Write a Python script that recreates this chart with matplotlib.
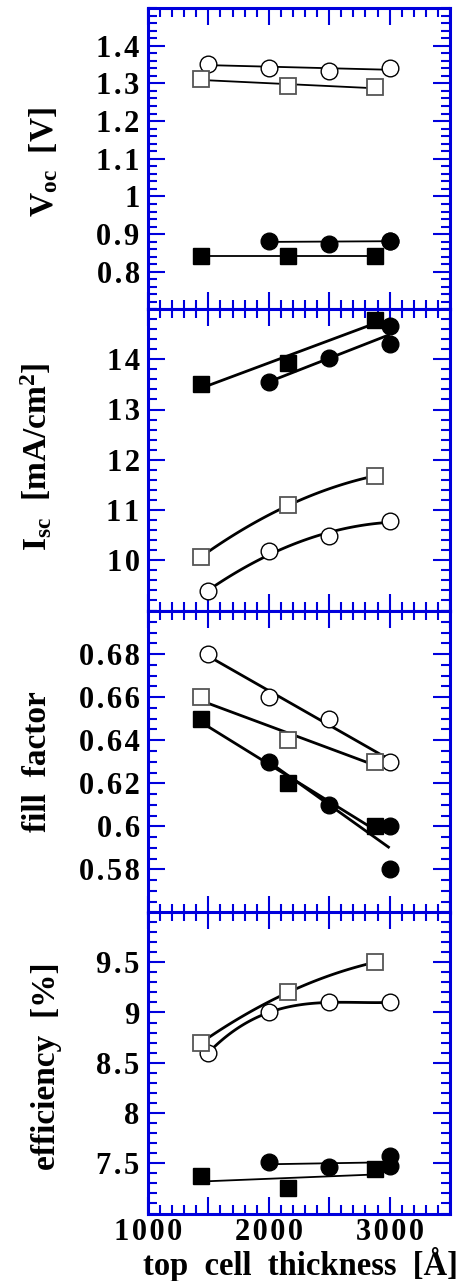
#!/usr/bin/env python3

import numpy as np
import matplotlib
matplotlib.use('Agg')
import matplotlib.pyplot as plt
from matplotlib.ticker import MultipleLocator, FixedLocator, FuncFormatter

# thickness of the top cell [A]
circle_x = [1500, 2000, 2500, 3000]
square_x = [1440, 2160, 2880]
fcircle_x = [2000, 2500, 3000, 3000]

# open circles / open squares / filled circles / filled squares
voc_oc = [1.352, 1.342, 1.334, 1.341]
voc_os = [1.312, 1.292, 1.290]
voc_fc = [0.883, 0.873, 0.883, 0.883]
voc_fs = [0.842, 0.842, 0.842]

isc_oc = [9.38, 10.18, 10.48, 10.78]
isc_os = [10.07, 11.09, 11.68]
isc_fc = [13.55, 14.02, 14.67, 14.31]
isc_fs = [13.50, 13.92, 14.79]

ff_oc = [0.680, 0.660, 0.650, 0.630]
ff_os = [0.660, 0.640, 0.630]
ff_fc = [0.630, 0.610, 0.600, 0.580]
ff_fs = [0.650, 0.620, 0.600]

eff_oc = [8.60, 9.00, 9.10, 9.10]
eff_os = [8.70, 9.20, 9.50]
eff_fc = [7.51, 7.46, 7.57, 7.47]
eff_fs = [7.37, 7.25, 7.44]

plt.rcParams['font.family'] = ['Liberation Serif', 'DejaVu Serif']
plt.rcParams['font.weight'] = 'bold'
plt.rcParams['mathtext.fontset'] = 'custom'
plt.rcParams['mathtext.rm'] = 'Liberation Serif:bold'
plt.rcParams['mathtext.it'] = 'Liberation Serif:bold'
plt.rcParams['mathtext.bf'] = 'Liberation Serif:bold'

BLUE = '#0000dd'
DPI = 100
fig = plt.figure(figsize=(468 / DPI, 1281 / DPI), dpi=DPI)

left = 148 / 468
width = 302 / 468
tops = [8, 309, 611, 912]
ph = 301.5


def spaced(s):
    # the original tick labels are slightly letter-spaced
    return '\u200a'.join(s)


def fit_line(ax, x, y, deg, lw):
    # least squares fit drawn from first to last thickness
    c = np.polyfit(x, y, deg)
    xs = np.linspace(min(x), max(x), 100)
    ax.plot(xs, np.polyval(c, xs), color='k', lw=lw, zorder=2,
            solid_capstyle='butt')


def markers(ax, x, y, kind):
    if kind == 'oc':
        ax.plot(x, y, 'o', ms=12, mfc='white', mec='k', mew=1.0, zorder=3)
    elif kind == 'os':
        ax.plot(x, y, 's', ms=12, mfc='white', mec='#555555', mew=1.3, zorder=3)
    elif kind == 'fc':
        ax.plot(x, y, 'o', ms=12, mfc='k', mec='k', mew=1.0, zorder=3)
    else:
        ax.plot(x, y, 's', ms=12, mfc='k', mec='k', mew=1.0, zorder=3)


panels = [
    dict(d=(voc_oc, voc_os, voc_fc, voc_fs), deg=(1, 1, 1, 1),
         lw=(1.3, 1.3, 1.3, 1.3), ylim=(0.7, 1.5),
         ticks=[0.8, 0.9, 1.0, 1.1, 1.2, 1.3, 1.4], minor=0.02,
         label=r'V$_{\mathbf{oc}}$  [V]', lx=-0.345, ly=0.49),
    dict(d=(isc_oc, isc_os, isc_fc, isc_fs), deg=(2, 2, 1, 1),
         lw=(2.0, 2.0, 2.0, 2.0), ylim=(9, 15),
         ticks=[10, 11, 12, 13, 14], minor=0.2,
         label=r'I$_{\mathbf{sc}}$  [mA/cm$^{\mathbf{2}}$]', lx=-0.37, ly=0.51),
    dict(d=(ff_oc, ff_os, ff_fc, ff_fs), deg=(1, 1, 1, 1),
         lw=(2.0, 2.0, 2.0, 2.0), ylim=(0.56, 0.70),
         ticks=[0.58, 0.60, 0.62, 0.64, 0.66, 0.68], minor=0.005,
         label='fill  factor', lx=-0.365, ly=0.5),
    dict(d=(eff_oc, eff_os, eff_fc, eff_fs), deg=(3, 2, 1, 1),
         lw=(2.0, 2.0, 1.3, 1.3), ylim=(7.0, 10.0),
         ticks=[7.5, 8.0, 8.5, 9.0, 9.5], minor=0.1,
         label='efficiency  [%]', lx=-0.335, ly=0.49),
]

for i, p in enumerate(panels):
    bottom = 1 - (tops[i] + ph) / 1281
    ax = fig.add_axes([left, bottom, width, ph / 1281])

    oc, os_, fc, fs = p['d']
    fit_line(ax, circle_x, oc, p['deg'][0], p['lw'][0])
    fit_line(ax, square_x, os_, p['deg'][1], p['lw'][1])
    fit_line(ax, fcircle_x[:len(fc)], fc, p['deg'][2], p['lw'][2])
    fit_line(ax, square_x, fs, p['deg'][3], p['lw'][3])
    markers(ax, circle_x, oc, 'oc')
    markers(ax, square_x, os_, 'os')
    markers(ax, fcircle_x[:len(fc)], fc, 'fc')
    markers(ax, square_x, fs, 'fs')

    ax.set_xlim(1000, 3500)
    ax.set_ylim(*p['ylim'])
    ax.xaxis.set_major_locator(MultipleLocator(500))
    ax.xaxis.set_minor_locator(MultipleLocator(100))
    ax.yaxis.set_major_locator(FixedLocator(p['ticks']))
    ax.yaxis.set_minor_locator(MultipleLocator(p['minor']))
    ax.yaxis.set_major_formatter(FuncFormatter(
        lambda v, pos: spaced('%g' % round(v, 3))))
    if i == 3:
        ax.xaxis.set_major_formatter(FuncFormatter(
            lambda v, pos: spaced('%d' % v) if abs(v % 1000) < 1 else ''))
    else:
        ax.xaxis.set_major_formatter(FuncFormatter(lambda v, pos: ''))

    for s in ax.spines.values():
        s.set_color(BLUE)
        s.set_linewidth(2.2)
    ax.tick_params(which='both', direction='in', top=True, right=True,
                   color=BLUE, width=1.5)
    ax.tick_params(which='major', length=12)
    ax.tick_params(which='minor', length=6.5)
    ax.tick_params(axis='y', which='major', labelsize=22, pad=6)
    ax.tick_params(axis='x', which='major', labelsize=22, pad=3.5)
    for t in ax.get_xticklabels() + ax.get_yticklabels():
        t.set_fontweight('bold')

    ax.text(p['lx'], p['ly'], p['label'], transform=ax.transAxes,
            rotation=90, ha='center', va='center', fontsize=24,
            fontweight='bold')

fig.text((148 + 152) / 468, 1 - 1275 / 1281, 'top  cell  thickness  [Å]',
         ha='center', va='baseline', fontsize=23.5, fontweight='bold')

fig.savefig('out.png', dpi=DPI)
